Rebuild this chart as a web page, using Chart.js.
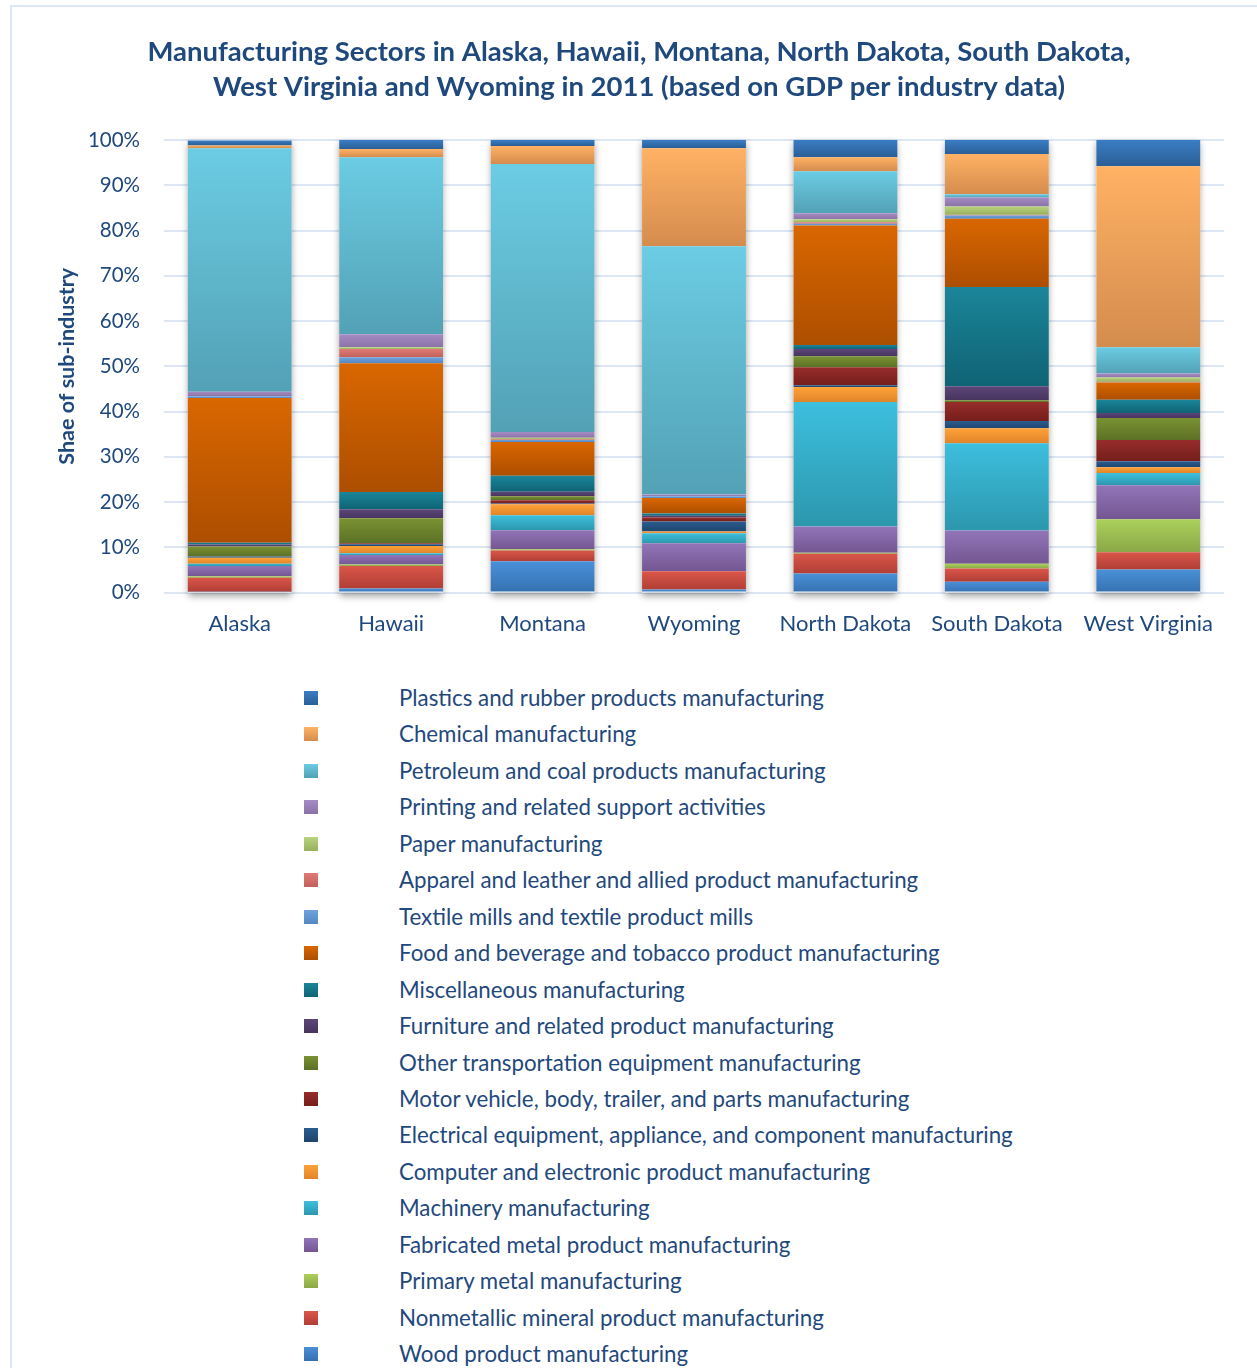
<!DOCTYPE html>
<html>
<head>
<meta charset="utf-8">
<script src="https://cdn.jsdelivr.net/npm/chart.js@4.4.1/dist/chart.umd.min.js"></script>
<style>
  html, body { margin: 0; padding: 0; background: #fff; }
  body { width: 1257px; height: 1368px; position: relative; overflow: hidden; font-family: Lato, "Open Sans", sans-serif; }
  .frame { position: absolute; left: 10px; top: 5px; width: 1300px; height: 1400px; border-left: 2px solid #DCE6F4; border-top: 2px solid #DCE6F4; }
  .chart-box { position: absolute; left: 0; top: 0; width: 1257px; height: 665px; }
  #legend { position: absolute; left: 0; top: 681px; margin: 0; padding: 0; list-style: none; }
  #legend li { position: absolute; left: 0; height: 36px; white-space: nowrap; }
  #legend .box { position: absolute; left: 304px; top: 10px; width: 14px; height: 14px; }
  #legend .txt { position: absolute; left: 399px; top: 3px; font-size: 22.3px; line-height: 28px; color: #1F497D; }
</style>
</head>
<body>
<div class="frame"></div>
<div class="chart-box"><canvas id="mfgChart"></canvas></div>
<ul id="legend"></ul>

<script>
// categories (states)
const states = ['Alaska', 'Hawaii', 'Montana', 'Wyoming', 'North Dakota', 'South Dakota', 'West Virginia'];
const yTicks = [0, 10, 20, 30, 40, 50, 60, 70, 80, 90, 100];

// share of each sub-industry, % (Alaska, Hawaii, Montana, Wyoming, N. Dakota, S. Dakota, W. Virginia)
const wood           = [0.2, 0.9, 6.9, 0.7, 4.2, 2.4, 5.1];
const nonmetallic    = [3.1, 5.0, 2.4, 4.0, 4.4, 2.9, 3.8];
const primaryMetal   = [0.3, 0.3, 0.3, 0.0, 0.2, 1.1, 7.3];
const fabricated     = [2.3, 2.1, 4.2, 6.2, 5.8, 7.3, 7.5];
const machinery      = [0.5, 0.4, 3.3, 2.2, 27.5, 19.3, 2.7];
const computer       = [1.3, 1.6, 2.4, 0.4, 3.3, 3.3, 1.3];
const electrical     = [0.3, 0.4, 0.2, 2.2, 0.4, 1.6, 1.3];
const motorVehicle   = [0.0, 0.2, 0.7, 0.9, 4.0, 4.2, 4.7];
const otherTransport = [2.2, 5.5, 0.9, 0.0, 2.4, 0.4, 4.9];
const furniture      = [0.4, 2.0, 1.0, 0.4, 1.6, 3.1, 1.1];
const misc           = [0.4, 3.8, 3.5, 0.5, 0.9, 21.9, 2.9];
const food           = [32.0, 28.5, 7.5, 3.4, 26.4, 15.1, 3.8];
const textile        = [0.4, 1.3, 0.4, 0.4, 0.4, 0.7, 0.1];
const apparel        = [0.0, 1.8, 0.2, 0.0, 0.3, 0.2, 0.1];
const paper          = [0.0, 0.4, 0.3, 0.0, 0.7, 1.8, 0.9];
const printing       = [1.0, 2.9, 1.3, 0.4, 1.3, 2.0, 0.9];
const petroleum      = [53.8, 39.1, 59.2, 54.8, 9.3, 0.7, 5.8];
const chemical       = [0.6, 1.8, 4.0, 21.7, 3.1, 8.9, 40.0];
const plastics       = [1.1, 2.0, 1.3, 1.8, 3.8, 3.1, 5.8];

// stacked bottom -> top
const series = [
  ['Wood product manufacturing', wood],
  ['Nonmetallic mineral product manufacturing', nonmetallic],
  ['Primary metal manufacturing', primaryMetal],
  ['Fabricated metal product manufacturing', fabricated],
  ['Machinery manufacturing', machinery],
  ['Computer and electronic product manufacturing', computer],
  ['Electrical equipment, appliance, and component manufacturing', electrical],
  ['Motor vehicle, body, trailer, and parts manufacturing', motorVehicle],
  ['Other transportation equipment manufacturing', otherTransport],
  ['Furniture and related product manufacturing', furniture],
  ['Miscellaneous manufacturing', misc],
  ['Food and beverage and tobacco product manufacturing', food],
  ['Textile mills and textile product mills', textile],
  ['Apparel and leather and allied product manufacturing', apparel],
  ['Paper manufacturing', paper],
  ['Printing and related support activities', printing],
  ['Petroleum and coal products manufacturing', petroleum],
  ['Chemical manufacturing', chemical],
  ['Plastics and rubber products manufacturing', plastics]
];

// [light top, dark bottom] for each series, same order
const palette = [
  ['#4A90D8', '#3571B0'],
  ['#DA5649', '#B03E35'],
  ['#ABD05C', '#8AA746'],
  ['#9175B8', '#735691'],
  ['#3DBFDE', '#2C97AD'],
  ['#FFA238', '#E0842A'],
  ['#2B5C8F', '#1D456E'],
  ['#962D2A', '#751E1B'],
  ['#7A9233', '#5C7125'],
  ['#5C4679', '#46345E'],
  ['#1B8599', '#0F6374'],
  ['#D96700', '#AD4E00'],
  ['#70A3DE', '#5586C0'],
  ['#E07A74', '#C0615A'],
  ['#B8D47E', '#98B05E'],
  ['#A68CC4', '#8A72A6'],
  ['#6BCCE3', '#53A1B5'],
  ['#FFB264', '#D48C4E'],
  ['#3A7DC4', '#2A5F96']
];

const textColor = '#1F497D';
const gridColor = '#DCE6F4';

function stackBelow(dsIndex, i) {
  let s = 0;
  for (let k = 0; k < dsIndex; k++) s += series[k][1][i];
  return s;
}

function segmentFill(ctx) {
  const chart = ctx.chart;
  const pal = palette[ctx.datasetIndex];
  const y = chart.scales.y;
  if (!chart.chartArea || !y || ctx.dataIndex === undefined) return pal[0];
  const lo = stackBelow(ctx.datasetIndex, ctx.dataIndex);
  const hi = lo + series[ctx.datasetIndex][1][ctx.dataIndex];
  const y0 = y.getPixelForValue(hi);
  const y1 = y.getPixelForValue(lo);
  if (!isFinite(y0) || !isFinite(y1) || y1 - y0 < 0.5) return pal[1];
  const g = chart.ctx.createLinearGradient(0, y0, 0, y1);
  g.addColorStop(0, pal[0]);
  g.addColorStop(1, pal[1]);
  return g;
}

// soft shadow behind each whole column, like the Excel original
const columnShadow = {
  id: 'columnShadow',
  beforeDatasetsDraw(chart) {
    const meta = chart.getDatasetMeta(0);
    const y = chart.scales.y;
    const c = chart.ctx;
    c.save();
    meta.data.forEach((bar, i) => {
      const total = stackBelow(series.length, i);
      const top = y.getPixelForValue(total);
      const bottom = y.getPixelForValue(0);
      c.shadowColor = 'rgba(0,0,0,0.38)';
      c.shadowBlur = 7;
      c.shadowOffsetX = 0;
      c.shadowOffsetY = 3;
      c.fillStyle = '#ffffff';
      c.fillRect(bar.x - bar.width / 2, top, bar.width, bottom - top);
    });
    c.restore();
  }
};

const chart = new Chart(document.getElementById('mfgChart'), {
  type: 'bar',
  data: {
    labels: states,
    datasets: series.map((s, k) => ({
      label: s[0],
      data: s[1],
      backgroundColor: segmentFill,
      borderWidth: 0,
      categoryPercentage: 1,
      barPercentage: 0.686
    }))
  },
  options: {
    responsive: true,
    maintainAspectRatio: false,
    animation: false,
    layout: { padding: { left: 54, right: 33, top: 0, bottom: 10 } },
    plugins: {
      legend: { display: false },
      tooltip: { enabled: false },
      title: {
        display: true,
        text: ['Manufacturing Sectors in Alaska, Hawaii, Montana, North Dakota, South Dakota,',
               'West Virginia and Wyoming in 2011 (based on GDP per industry data)'],
        color: textColor,
        font: { family: 'Lato', size: 27.5, weight: 'bold', lineHeight: '35px' },
        padding: { top: 35, bottom: 35 }
      }
    },
    scales: {
      x: {
        stacked: true,
        grid: { display: false, drawTicks: false },
        border: { display: false },
        ticks: { color: textColor, padding: 18, font: { family: 'Lato', size: 22 } }
      },
      y: {
        stacked: true,
        min: 0,
        max: 100,
        afterFit(scale) { scale.width = 110; },
        afterBuildTicks(scale) { scale.ticks = yTicks.map(v => ({ value: v })); },
        grid: { color: gridColor, lineWidth: 2, drawTicks: false },
        border: { display: false },
        ticks: {
          color: textColor,
          padding: 24,
          font: { family: 'Lato', size: 20.5 },
          callback: v => v + '%'
        },
        title: {
          display: true,
          text: 'Shae of sub-industry',
          color: textColor,
          font: { family: 'Lato', size: 21.5, weight: 'bold' },
          padding: { top: 0, bottom: 10 }
        }
      }
    }
  },
  plugins: [columnShadow]
});

// legend list, top -> bottom is reverse of stacking order
const legendEl = document.getElementById('legend');
series.slice().reverse().forEach((s, j) => {
  const pal = palette[series.length - 1 - j];
  const li = document.createElement('li');
  li.style.top = (j * 36.45) + 'px';
  const box = document.createElement('span');
  box.className = 'box';
  box.style.background = 'linear-gradient(' + pal[0] + ',' + pal[1] + ')';
  const txt = document.createElement('span');
  txt.className = 'txt';
  txt.textContent = s[0];
  li.appendChild(box);
  li.appendChild(txt);
  legendEl.appendChild(li);
});
</script>
</body>
</html>
